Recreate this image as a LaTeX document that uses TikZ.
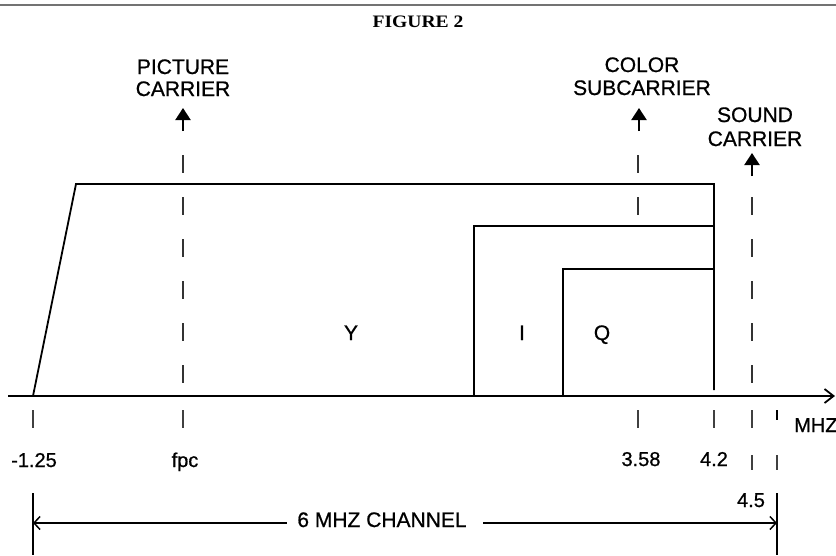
\documentclass[tikz,border=0pt]{standalone}
\usepackage{fontspec}
\setmainfont{Liberation Serif}
\newfontfamily\labfont[FakeBold=0.8]{Liberation Sans}
\newfontfamily\figfont{Liberation Serif Bold}
\usetikzlibrary{arrows.meta}
\begin{document}
\begin{tikzpicture}[x=1pt,y=-1pt,
  lab/.style={font=\labfont\fontsize{21}{21}\selectfont, inner sep=0pt, anchor=base},
  num/.style={font=\labfont\fontsize{20}{20}\selectfont, inner sep=0pt, anchor=base},
  edge/.style={line width=1.8pt, line join=miter},
  dsh/.style={line width=1.3pt, dash pattern=on 18pt off 24pt, black!80},
  tickmark/.style={line width=1.2pt, black!75},
  carrier/.style={line width=2.2pt, -{Triangle[length=12pt,width=15pt]}},
  dim/.style={line width=1.5pt},
]
\useasboundingbox (0,0) rectangle (836,555);
% top rule
\draw[line width=2pt, black!55] (0,5) -- (836,5);
\node[font=\figfont\fontsize{17.5}{17.5}\selectfont, inner sep=0pt, anchor=base] (fig) at (418,27) {\scalebox{1.12}[1]{FIGURE 2}};

% carrier labels
\node[lab] (pc1) at (183,74) {PICTURE};
\node[lab] (pc2) at (183,96) {CARRIER};
\node[lab] (cs1) at (642,72) {COLOR};
\node[lab] (cs2) at (642,95) {SUBCARRIER};
\node[lab] (sc1) at (755,122) {SOUND};
\node[lab] (sc2) at (755,146) {CARRIER};

% carrier arrows
\coordinate (pcA) at (183,131); \coordinate (pcT) at (183,108);
\coordinate (csA) at (639,131); \coordinate (csT) at (639,108);
\coordinate (scA) at (752,176); \coordinate (scT) at (752,153);
\draw[carrier] (pcA) -- (pcT);
\draw[carrier] (csA) -- (csT);
\draw[carrier] (scA) -- (scT);

% dashed carrier lines
\draw[dsh] (183,155) -- (183,390);
\draw[dsh] (638,155) -- (638,216);
\draw[dsh] (752,197) -- (752,390);

% spectrum shapes
\coordinate (y0) at (33,396);
\coordinate (y1) at (76,184);
\coordinate (y2) at (714,184);
\coordinate (y3) at (714,390);
\draw[edge] (y0) -- (y1) -- (y2) -- (y3);
\coordinate (i0) at (474,396);
\coordinate (i1) at (474,226);
\coordinate (i2) at (714,226);
\draw[edge] (i0) -- (i1) -- (i2);
\coordinate (q0) at (563,396);
\coordinate (q1) at (563,269);
\coordinate (q2) at (714,269);
\draw[edge] (q0) -- (q1) -- (q2);

\node[lab] (Y) at (351,340) {Y};
\node[lab] (I) at (522,340) {I};
\node[lab] (Q) at (602,340) {Q};

% axis
\coordinate (ax0) at (8,396);
\coordinate (ax1) at (835,396);
\draw[line width=1.8pt, -{Straight Barb[length=9pt,width=14pt]}] (ax0) -- (ax1);

% ticks below axis
\foreach \x in {33,183,638,714,752} \draw[tickmark] (\x,410) -- (\x,428);
\draw[line width=1.6pt] (777,410) -- (777,420);
\draw[tickmark] (752,455) -- (752,470);
\draw[tickmark] (777,455) -- (777,470);

\node[num, anchor=base west] (mhz) at (794,432) {MHZ};
\node[num] (n1) at (34,467) {-1.25};
\node[num] (n2) at (185,467) {fpc};
\node[num] (n3) at (641,466) {3.58};
\node[num] (n4) at (714,466) {4.2};
\node[num] (n5) at (751,507) {4.5};

% channel dimension
\coordinate (dl0) at (33,493); \coordinate (dl1) at (33,555);
\coordinate (dr0) at (777,493); \coordinate (dr1) at (777,555);
\draw[dim] (dl0) -- (dl1);
\draw[dim] (dr0) -- (dr1);
\coordinate (dl) at (33,523);
\coordinate (dr) at (777,523);
\node[lab, inner xsep=0pt] (ch) at (382,527) {6 MHZ CHANNEL};
\coordinate (chl) at (287,523);
\coordinate (chr) at (483,523);
\draw[dim, {Straight Barb[length=6pt,width=13pt]}-] (dl) -- (chl);
\draw[dim, -{Straight Barb[length=6pt,width=13pt]}] (chr) -- (dr);
\end{tikzpicture}
\end{document}
